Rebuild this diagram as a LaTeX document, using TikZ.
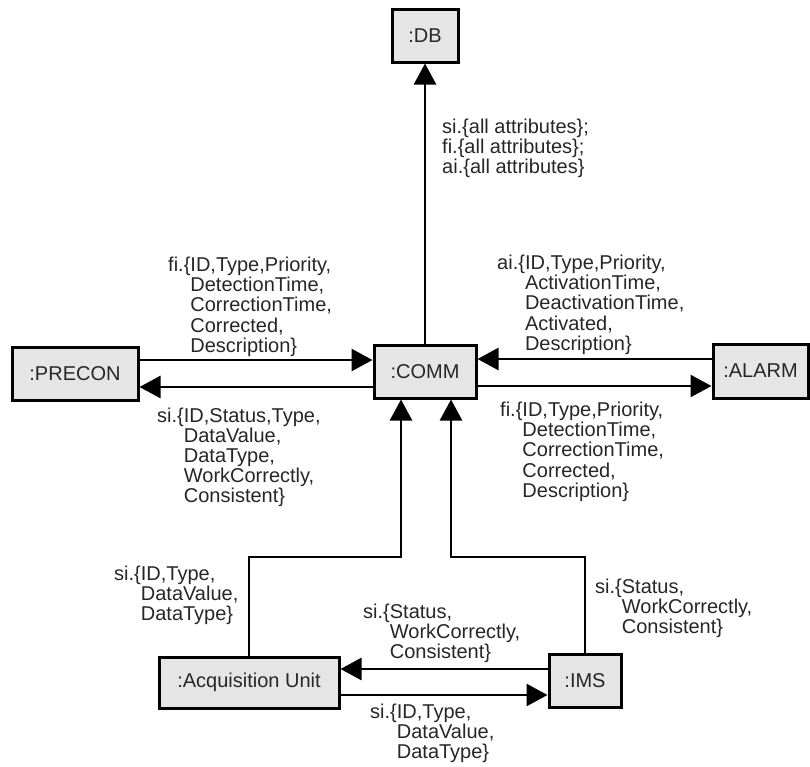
\documentclass[tikz,border=0pt]{standalone}
\usepackage{fontspec}
\setmainfont{Liberation Sans}
\usetikzlibrary{arrows.meta}
% multi-line label whose reference point is the first baseline
\newcommand\lbltab[1]{\begin{tabular}[t]{@{}l@{}}#1\end{tabular}}
\begin{document}
\begin{tikzpicture}[x=1pt,y=-1pt,
  box/.style={draw=black, line width=3pt, fill=black!10, inner sep=0pt,
    font=\fontsize{20}{20}\selectfont, text=black!85},
  arr/.style={line width=2.6pt, -{Triangle[length=21pt,width=22pt]}},
  lbl/.style={anchor=base west, inner sep=0pt,
    font=\fontsize{20}{19.7}\selectfont, text=black!85}]
\useasboundingbox (0,0) rectangle (810,766);

% objects
\node[box, minimum width=66pt,  minimum height=53pt] (db)     at (425,35.5)  {:DB};
\node[box, minimum width=102pt, minimum height=53pt] (comm)   at (425,371.5) {:COMM};
\node[box, minimum width=126pt, minimum height=53pt] (precon) at (75,373.5)  {:PRECON};
\node[box, minimum width=95pt,  minimum height=54pt] (alarm)  at (760.5,371) {:ALARM};
\node[box, minimum width=180pt, minimum height=51pt] (acq)    at (249,682.5) {:Acquisition Unit};
\node[box, minimum width=72pt,  minimum height=53pt] (ims)    at (585,680.5) {:IMS};

% messages
\draw[arr] (comm.north) -- (db.south);
\draw[arr] (precon.east |- 0,360) -- (comm.west |- 0,360);
\draw[arr] (comm.west |- 0,387) -- (precon.east |- 0,387);
\draw[arr] (alarm.west |- 0,359) -- (comm.east |- 0,359);
\draw[arr] (comm.east |- 0,386) -- (alarm.west |- 0,386);
\coordinate (ja) at (401,557);
\coordinate (jb) at (451,557);
\draw[arr] (acq.north) |- (ja) -- (comm.south -| ja);
\draw[arr] (ims.north) |- (jb) -- (comm.south -| jb);
\draw[arr] (ims.west |- 0,669) -- (acq.east |- 0,669);
\draw[arr] (acq.east |- 0,695) -- (ims.west |- 0,695);

% message contents
\node[lbl] (tdb) at (442,133) {\lbltab{si.\{all attributes\};\\
  fi.\{all attributes\};\\
  ai.\{all attributes\}}};
\node[lbl] (tpc) at (168,271) {\lbltab{fi.\{ID,Type,Priority,\\
  \hphantom{fi.\{}DetectionTime,\\
  \hphantom{fi.\{}CorrectionTime,\\
  \hphantom{fi.\{}Corrected,\\
  \hphantom{fi.\{}Description\}}};
\node[lbl] (tcp) at (157,422) {\lbltab{si.\{ID,Status,Type,\\
  \hphantom{si.\{}DataValue,\\
  \hphantom{si.\{}DataType,\\
  \hphantom{si.\{}WorkCorrectly,\\
  \hphantom{si.\{}Consistent\}}};
\node[lbl] (tac) at (497,269) {\lbltab{ai.\{ID,Type,Priority,\\
  \hphantom{ai.\{}ActivationTime,\\
  \hphantom{ai.\{}DeactivationTime,\\
  \hphantom{ai.\{}Activated,\\
  \hphantom{ai.\{}Description\}}};
\node[lbl] (tca) at (500,416) {\lbltab{fi.\{ID,Type,Priority,\\
  \hphantom{fi.\{}DetectionTime,\\
  \hphantom{fi.\{}CorrectionTime,\\
  \hphantom{fi.\{}Corrected,\\
  \hphantom{fi.\{}Description\}}};
\node[lbl] (tqc) at (114,580) {\lbltab{si.\{ID,Type,\\
  \hphantom{si.\{}DataValue,\\
  \hphantom{si.\{}DataType\}}};
\node[lbl] (tiq) at (363,618) {\lbltab{si.\{Status,\\
  \hphantom{si.\{}WorkCorrectly,\\
  \hphantom{si.\{}Consistent\}}};
\node[lbl] (tqi) at (370,718) {\lbltab{si.\{ID,Type,\\
  \hphantom{si.\{}DataValue,\\
  \hphantom{si.\{}DataType\}}};
\node[lbl] (tic) at (595,593) {\lbltab{si.\{Status,\\
  \hphantom{si.\{}WorkCorrectly,\\
  \hphantom{si.\{}Consistent\}}};
\end{tikzpicture}
\end{document}
